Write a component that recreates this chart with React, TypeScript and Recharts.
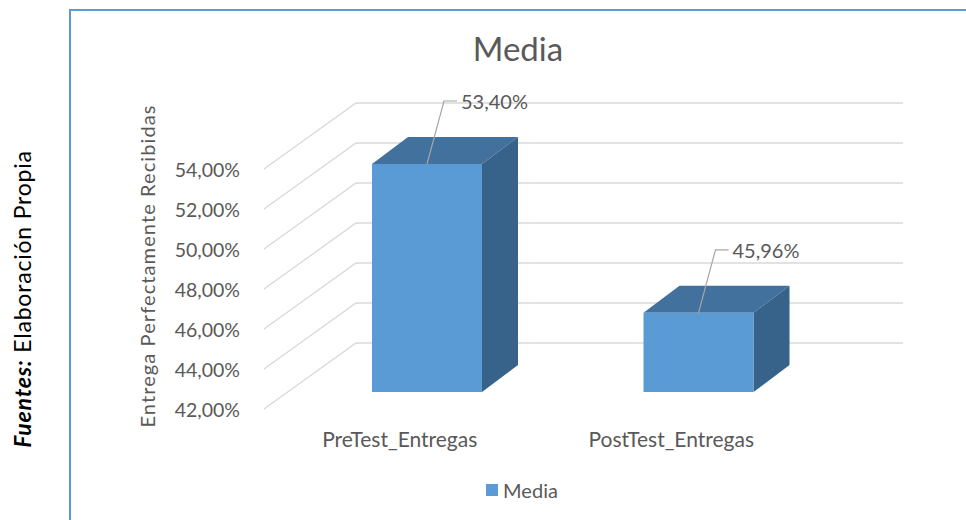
import { BarChart, Bar, XAxis, YAxis, CartesianGrid, Legend, LabelList } from "recharts";

const categories = ["PreTest_Entregas", "PostTest_Entregas"];
const mediaValues = [53.4, 45.96];
const yTicks = [42, 44, 46, 48, 50, 52, 54];

const data = categories.map((name, i) => ({ name, media: mediaValues[i] }));

const FONT = "Lato, 'Noto Sans', sans-serif";
const TEXT = "#595959";
const FRONT = "#5B9BD5";
const TOP = "#41719C";
const SIDE = "#37628A";
const GRID = "#d9d9d9";

// perspective: floor front -> back wall
const WALL_DX = 92;
const WALL_DY = -66;
// bar placement inside the depth
const BAR_DX = 27;
const BAR_DY = -17;
const BAR_DEPTH_X = 36;
const BAR_DEPTH_Y = -27;

const pct = (v: number) => v.toFixed(2).replace(".", ",") + "%";

function Box3D(props: any) {
  const { x, y, width, height } = props;
  const fx = x + BAR_DX;
  const fy = y + BAR_DY;
  const dx = BAR_DEPTH_X;
  const dy = BAR_DEPTH_Y;
  return (
    <g>
      <polygon
        points={`${fx},${fy} ${fx + dx},${fy + dy} ${fx + width + dx},${fy + dy} ${fx + width},${fy}`}
        fill={TOP}
      />
      <polygon
        points={`${fx + width},${fy} ${fx + width + dx},${fy + dy} ${fx + width + dx},${fy + height + dy} ${fx + width},${fy + height}`}
        fill={SIDE}
      />
      <rect x={fx} y={fy} width={width} height={height} fill={FRONT} />
    </g>
  );
}

function LeaderLabel(props: any) {
  const { x, y, width, value } = props;
  const cx = x + BAR_DX + width / 2;
  const ty = y + BAR_DY;
  const ex = cx + 17;
  const ey = ty - 63;
  return (
    <g>
      <path d={`M${cx},${ty} L${ex},${ey} L${ex + 13},${ey}`} stroke="#a6a6a6" strokeWidth={1.2} fill="none" />
      <text x={ex + 17} y={ey} dominantBaseline="central" fontFamily={FONT} fontSize={20} fill={TEXT}>
        {pct(Number(value))}
      </text>
    </g>
  );
}

function WallLine(p: any) {
  const { x1, y1, x2 } = p;
  return (
    <path
      key={p.key}
      d={`M${x1},${y1} L${x1 + WALL_DX},${y1 + WALL_DY} L${x2 + 96},${y1 + WALL_DY}`}
      stroke={GRID}
      strokeWidth={1.3}
      fill="none"
    />
  );
}

function YTick(props: any) {
  const { x, y, payload } = props;
  return (
    <text x={x} y={y} textAnchor="end" dominantBaseline="central" fontFamily={FONT} fontSize={19.5} fill={TEXT}>
      {pct(payload.value)}
    </text>
  );
}

function XTick(props: any) {
  const { x, y, payload } = props;
  return (
    <text x={x} y={y} textAnchor="middle" dominantBaseline="central" fontFamily={FONT} fontSize={21} fill={TEXT}>
      {payload.value}
    </text>
  );
}

function YTitle(props: any) {
  const { viewBox } = props;
  const x = viewBox.x - 57;
  const y = viewBox.y + viewBox.height / 2 - 23;
  return (
    <text
      x={x}
      y={y}
      transform={`rotate(-90, ${x}, ${y})`}
      textAnchor="middle"
      dominantBaseline="central"
      fontFamily={FONT}
      fontSize={20}
      letterSpacing={1.1}
      fill={TEXT}
    >
      Entrega Perfectamente Recibidas
    </text>
  );
}

function LegendContent(props: any) {
  const items = props.payload || [];
  return (
    <div style={{ display: "flex", justifyContent: "center", paddingLeft: 78 }}>
      {items.map((it: any) => (
        <div key={it.value} style={{ display: "flex", alignItems: "center", fontFamily: FONT, fontSize: 20, color: TEXT }}>
          <span style={{ width: 12, height: 12, background: FRONT, marginRight: 5, display: "inline-block" }} />
          {it.value}
        </div>
      ))}
    </div>
  );
}

export default function App() {
  return (
    <div style={{ position: "absolute", left: 0, top: 0, width: 966, height: 520, background: "#fff", overflow: "hidden" }}>
      <div
        style={{
          position: "absolute",
          left: 69,
          top: 9,
          width: 1000,
          height: 600,
          borderLeft: "2px solid #5B9BD5",
          borderTop: "2px solid #5B9BD5",
        }}
      />
      <svg width={60} height={520} style={{ position: "absolute", left: 0, top: 0 }}>
        <text
          x={22}
          y={299}
          transform="rotate(-90, 22, 299)"
          textAnchor="middle"
          dominantBaseline="central"
          fontFamily={FONT}
          fontSize={23}
          letterSpacing={0.8}
          fill="#000"
        >
          <tspan fontWeight="bold" fontStyle="italic">Fuentes:</tspan> Elaboración Propia
        </text>
      </svg>
      <div
        style={{
          position: "absolute",
          left: 418,
          top: 28,
          width: 200,
          textAlign: "center",
          fontFamily: FONT,
          fontSize: 33,
          lineHeight: "40px",
          color: TEXT,
        }}
      >
        Media
      </div>
      <div style={{ position: "absolute", left: 0, top: 0 }}>
        <BarChart width={966} height={520} data={data} margin={{ top: 169, right: 159, bottom: 71, left: 204 }}>
          <CartesianGrid vertical={false} horizontal={WallLine} />
          <XAxis
            dataKey="name"
            height={40}
            tickLine={false}
            axisLine={false}
            tickSize={0}
            tickMargin={29}
            tick={XTick}
            padding={{ left: 0, right: 0 }}
          />
          <YAxis
            type="number"
            domain={[42, 54]}
            ticks={yTicks}
            width={60}
            tickLine={false}
            axisLine={false}
            tickSize={0}
            tickMargin={24}
            tick={YTick}
            label={YTitle}
          />
          <Legend
            content={LegendContent}
            layout="horizontal"
            verticalAlign="middle"
            align="center"
            wrapperStyle={{ top: 478, left: 0, width: 966 }}
          />
          <Bar dataKey="media" name="Media" fill={FRONT} barSize={110} shape={Box3D} isAnimationActive={false}>
            <LabelList dataKey="media" content={LeaderLabel} />
          </Bar>
        </BarChart>
      </div>
    </div>
  );
}
